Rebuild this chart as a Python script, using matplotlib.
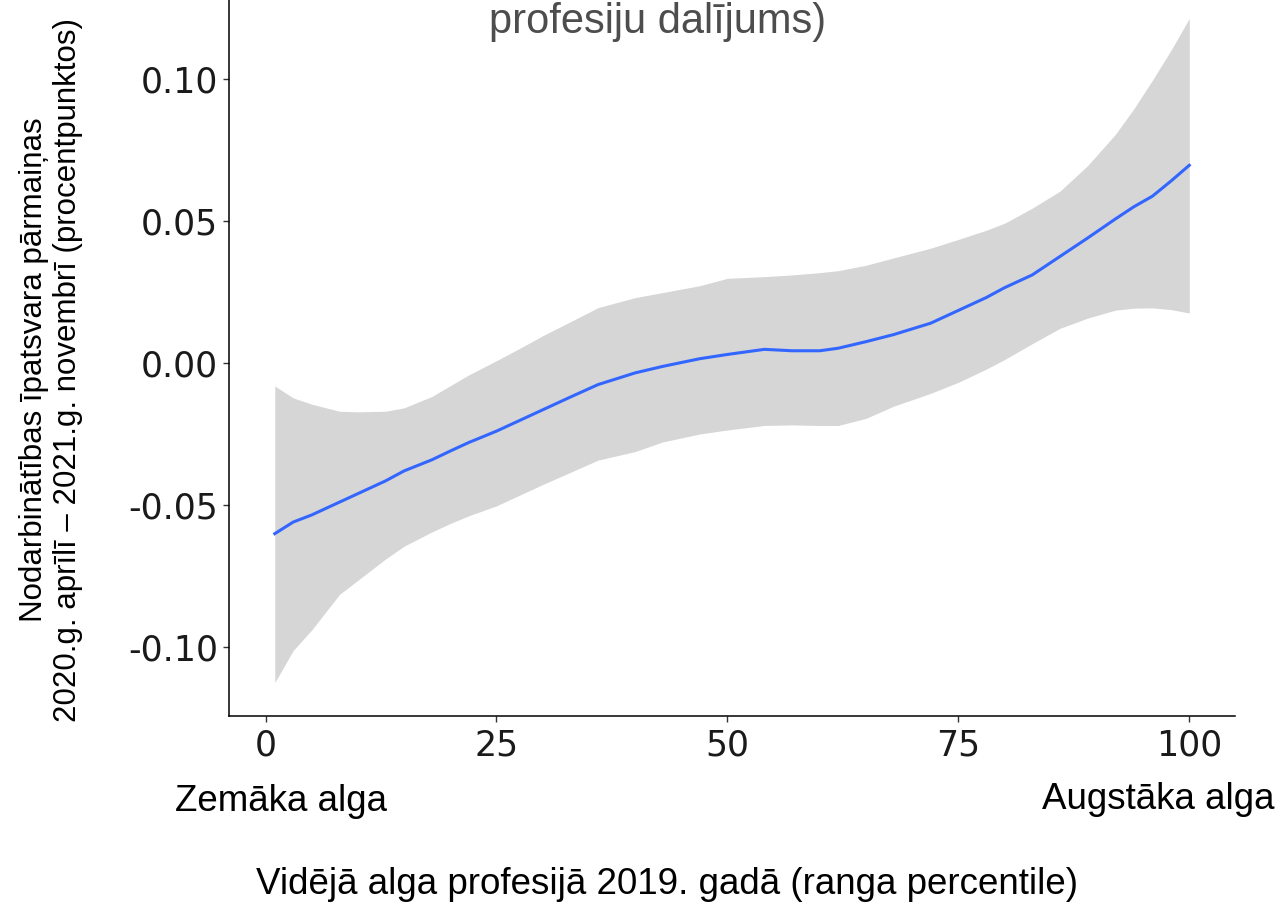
import numpy as np
import matplotlib
matplotlib.use('Agg')
import matplotlib.pyplot as plt

# percentile of the 2019 average wage (x) and loess fit with its confidence band
pct = [1, 3, 5, 8, 10, 13, 15, 18, 20, 22, 25, 28, 30, 33, 36, 40, 43, 47, 50,
       54, 57, 60, 62, 65, 68, 72, 75, 78, 80, 83, 86, 89, 92, 94, 96, 98, 100]
fit = [-0.0601, -0.056, -0.0535, -0.049, -0.046, -0.0415, -0.038, -0.0341, -0.031,
       -0.028, -0.024, -0.0195, -0.0165, -0.012, -0.0076, -0.0035, -0.0012, 0.0015,
       0.003, 0.0048, 0.0043, 0.0043, 0.0052, 0.0075, 0.0100, 0.014, 0.0185, 0.023,
       0.0265, 0.031, 0.0375, 0.044, 0.0507, 0.055, 0.0587, 0.064, 0.0696]
upper = [-0.0081, -0.0123, -0.0145, -0.0170, -0.0172, -0.0170, -0.0158, -0.0118,
         -0.0080, -0.0042, 0.0008, 0.006, 0.0096, 0.0145, 0.0195, 0.0230, 0.0248,
         0.0272, 0.0298, 0.0304, 0.031, 0.0318, 0.0325, 0.0344, 0.037, 0.0404, 0.0435,
         0.0467, 0.0492, 0.0545, 0.0605, 0.0695, 0.0805, 0.0895, 0.0995, 0.110, 0.1213]
lower = [-0.1125, -0.1012, -0.094, -0.0815, -0.0765, -0.069, -0.0645, -0.0595, -0.0565,
         -0.0538, -0.0503, -0.0458, -0.0428, -0.0385, -0.0342, -0.0312, -0.0278, -0.025,
         -0.0236, -0.022, -0.0218, -0.0220, -0.0220, -0.0195, -0.0152, -0.0107, -0.0068,
         -0.0022, 0.0012, 0.0068, 0.0122, 0.0158, 0.0186, 0.0193, 0.0194, 0.0188, 0.0176]

xticks = [0, 25, 50, 75, 100]
yticks = [-0.10, -0.05, 0.00, 0.05, 0.10]
ytick_labels = ['-0.10', '-0.05', '0.00', '0.05', '0.10']

fig = plt.figure(figsize=(12.81, 9.05), dpi=100)
ax = fig.add_axes([0.1788, 0.2088, 0.7853, 0.8066])

ax.fill_between(pct, lower, upper, color='#d6d6d6', linewidth=0)
ax.plot(pct, fit, color='#3366ff', linewidth=2.2)

ax.set_xlim(-3.95, 104.95)
ax.set_ylim(-0.1243, 0.1327)

for side in ['top', 'right']:
    ax.spines[side].set_visible(False)
for side in ['left', 'bottom']:
    ax.spines[side].set_linewidth(1.1)
    ax.spines[side].set_color('black')

ax.set_xticks(xticks)
ax.set_xticklabels([str(t) for t in xticks])
ax.set_yticks(yticks)
ax.set_yticklabels(ytick_labels)
ax.tick_params(axis='both', length=4, width=1, color='#333333',
               labelsize=25, labelcolor='#1a1a1a')
ax.tick_params(axis='x', pad=5)
ax.tick_params(axis='y', pad=4)
for lab in ax.get_xticklabels() + ax.get_yticklabels():
    lab.set_family('DejaVu Sans')

fig.text(0.513, 0.9757, 'profesiju dalījums)', ha='center', va='center',
         fontsize=30, color='#4d4d4d', family='Liberation Sans')
fig.text(0.0398, 0.591,
         'Nodarbinātības īpatsvara pārmaiņas\n2020.g. aprīlī – 2021.g. novembrī (procentpunktos)',
         rotation=90, ha='center', va='center', multialignment='center',
         fontsize=22.5, color='black', family='Liberation Sans', linespacing=1.15)
fig.text(0.5207, 0.0221, 'Vidējā alga profesijā 2019. gadā (ranga percentile)',
         ha='center', va='center', fontsize=26.5, color='black', family='Liberation Sans')
fig.text(0.1366, 0.114, 'Zemāka alga', ha='left', va='center',
         fontsize=26.5, color='black', family='Liberation Sans')
fig.text(0.9953, 0.117, 'Augstāka alga', ha='right', va='center',
         fontsize=26.5, color='black', family='Liberation Sans')

fig.savefig('out.png', dpi=100)
